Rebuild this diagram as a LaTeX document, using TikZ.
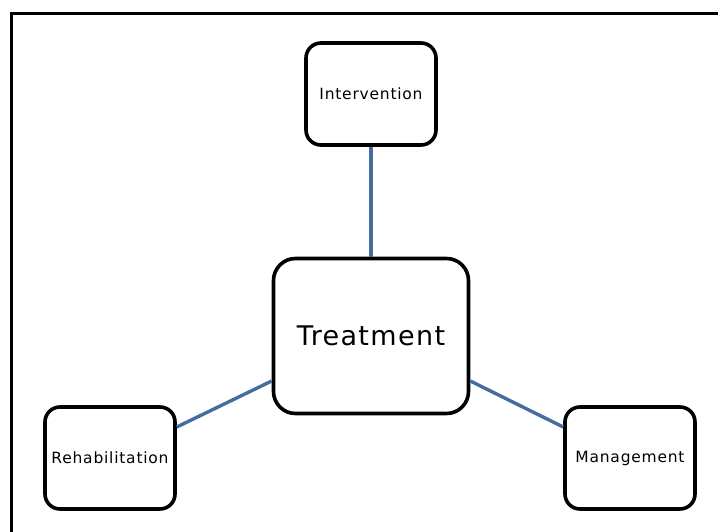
\documentclass[tikz,border=0pt]{standalone}
\usepackage{fontspec}
\usepackage{tikz}
\usetikzlibrary{positioning}
\newfontfamily\boxfont[LetterSpace=5]{DejaVu Sans}
\definecolor{linkblue}{RGB}{68,108,160}
\tikzset{
  frameln/.style={line width=3pt, black},
  boxnd/.style={draw, line width=3.6pt, rounded corners=15pt, fill=white,
    minimum width=130pt, minimum height=102pt, inner sep=0pt,
    font=\boxfont\fontsize{15.5}{18}\selectfont},
  bignd/.style={boxnd, rounded corners=22pt, minimum width=195pt,
    minimum height=155pt, font=\boxfont\fontsize{27}{31}\selectfont},
  linkln/.style={line width=3.4pt, linkblue},
}

\begin{document}
\begin{tikzpicture}[x=1pt, y=-1pt]
        \useasboundingbox (0,0) rectangle (718,532);
        \clip (0,0) rectangle (718,532);
        % page frame, cut off at right and bottom
        \draw[frameln] (11.5,13.5) rectangle (740,560);
        \node[bignd] (treat) at (371,336) {Treatment};
        \node[boxnd] (interv) at (371,94) {Intervention};
        \node[boxnd] (rehab) at (110,458) {Rehabilitation};
        \node[boxnd] (manage) at (630,458) {Management};
        % side links meet the boxes above their middles
        \coordinate (tl) at ([yshift=-45pt]treat.west);
        \coordinate (tr) at ([yshift=-45pt]treat.east);
        \coordinate (rr) at ([yshift=31pt]rehab.east);
        \coordinate (ml) at ([yshift=31pt]manage.west);
        \begin{scope}[on background layer/.try]
        \draw[linkln] (interv) -- (treat);
        \draw[linkln] (tl) -- (rr);
        \draw[linkln] (tr) -- (ml);
        \end{scope}
\end{tikzpicture}
\end{document}
